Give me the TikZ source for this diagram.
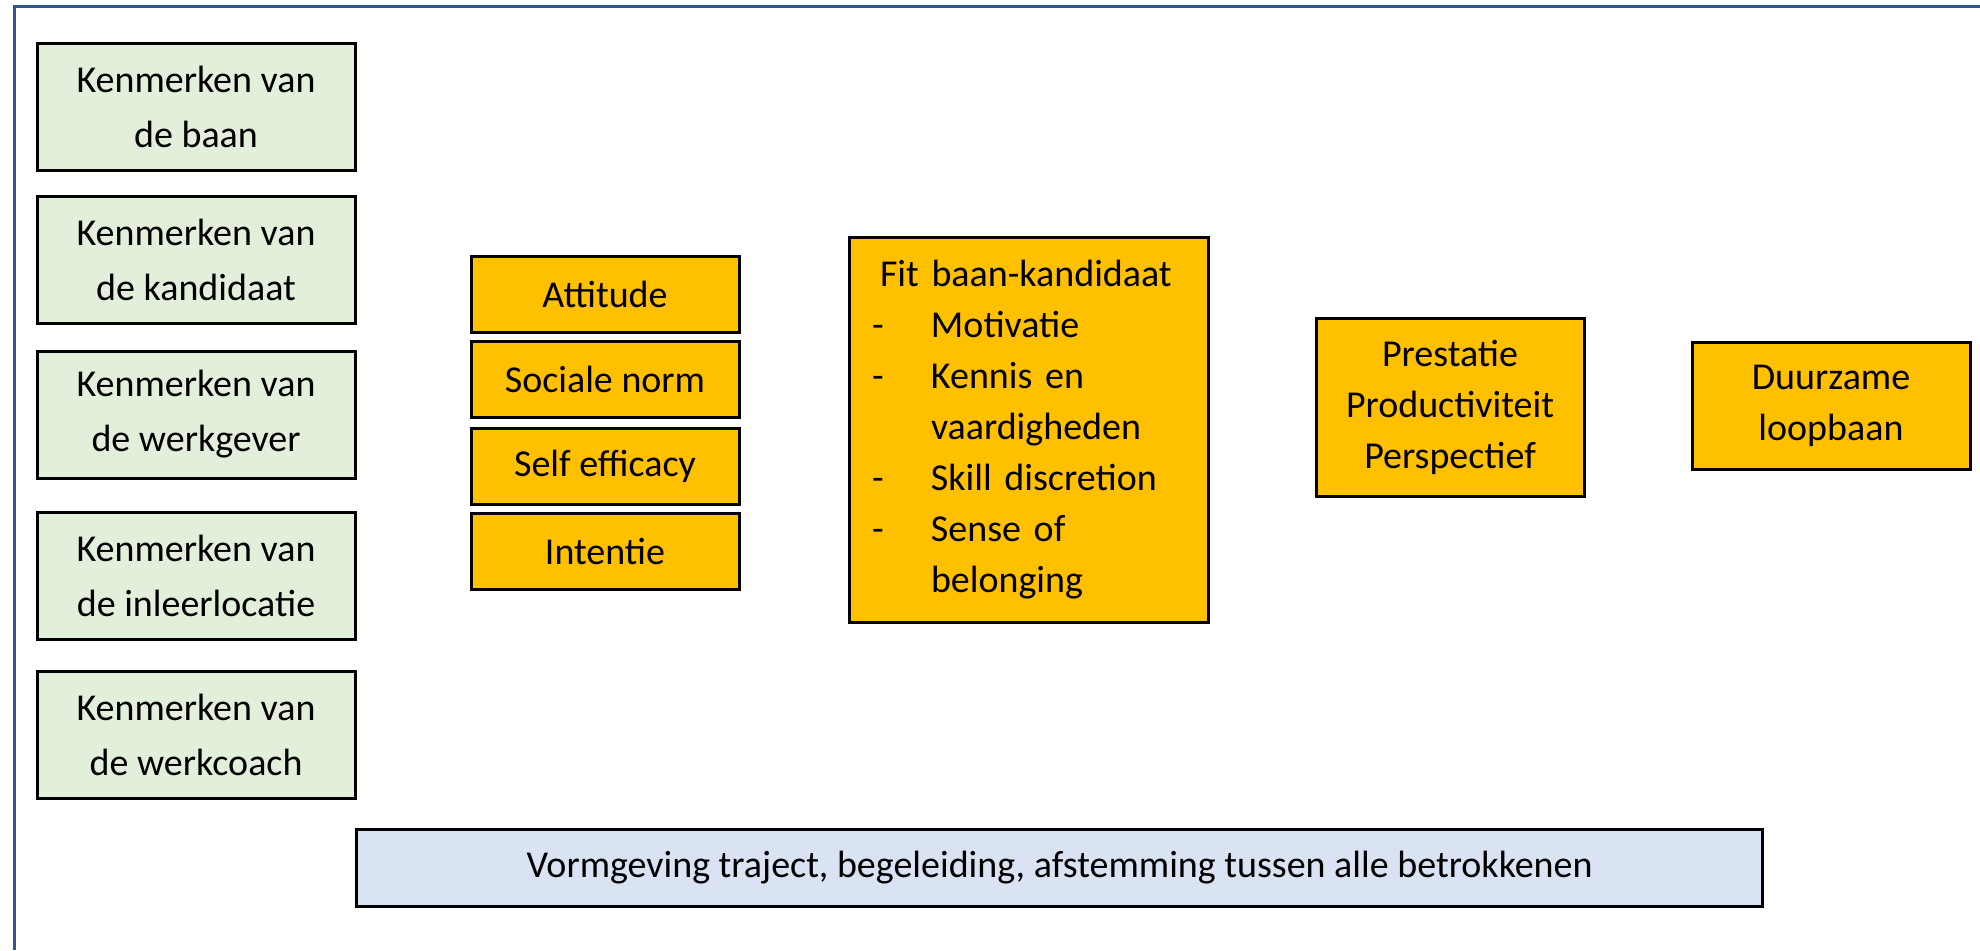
\documentclass[tikz,border=0pt]{standalone}
\usepackage{fontspec}
\setmainfont{Carlito}

\definecolor{kaderblauw}{RGB}{47,85,151}
\definecolor{kenmerkgroen}{RGB}{226,239,218}
\definecolor{oranje}{RGB}{255,192,0}
\definecolor{balkblauw}{RGB}{218,227,243}

\newcommand{\punt}{\makebox[29.5pt][l]{-}}
\newcommand{\inspring}{\hspace*{29.5pt}}

\tikzset{
	vak/.style={draw=black, line width=1.5pt, inner sep=0pt, align=center},
	kenmerk/.style={vak, fill=kenmerkgroen, minimum width=159pt, minimum height=63.5pt, font=\fontsize{19}{27.5}\selectfont},
	factor/.style={vak, fill=oranje, minimum width=134pt, minimum height=38pt, font=\fontsize{19}{25.5}\selectfont},
	uitkomst/.style={vak, fill=oranje, font=\fontsize{19}{25.5}\selectfont},
	balk/.style={vak, fill=balkblauw, minimum width=703pt, minimum height=38.5pt, font=\fontsize{19}{25.5}\selectfont},
	kader/.style={draw=kaderblauw, line width=1.5pt}
}

\begin{document}
\begin{tikzpicture}[x=0.5pt, y=-0.5pt]
		\useasboundingbox (0,0) rectangle (1980,950);
		\draw[kader] (14,950) -- (14,6) -- (1980,6);
		
		\node[kenmerk] (baan) at (196,106.5) {Kenmerken van\\de baan};
		\node[kenmerk] (kandidaat) at (196,260) {Kenmerken van\\de kandidaat};
		\node[kenmerk] (werkgever) at (196,414.5) {Kenmerken van\\de werkgever};
		\node[kenmerk] (inleerlocatie) at (196,576) {Kenmerken van\\de inleerlocatie};
		\node[kenmerk] (werkcoach) at (196,735) {Kenmerken van\\de werkcoach};
		
		\node[factor] (attitude) at (605,294) {Attitude};
		\node[factor] (norm) at (605,379) {Sociale norm};
		\node[factor] (efficacy) at (605,466) {Self efficacy};
		\node[factor] (intentie) at (605,551) {Intentie};
		
		\node[uitkomst, align=left, text width=156.5pt, inner xsep=11.5pt, minimum height=192.5pt] (fit) at (1028.5,429.5) {%
			\hspace*{4pt}Fit baan-kandidaat\\
			\punt Motivatie\\
			\punt Kennis en\\
			\inspring vaardigheden\\
			\punt Skill discretion\\
			\punt Sense of\\
			\inspring belonging};
		
		\node[uitkomst, minimum width=134pt, minimum height=89pt] (prestatie) at (1450,407) {Prestatie\\Productiviteit\\Perspectief};
		
		\node[uitkomst, minimum width=139pt, minimum height=63.5pt] (loopbaan) at (1831,405.5) {Duurzame\\loopbaan};
		
		\node[balk] (traject) at (1059.5,868) {Vormgeving traject, begeleiding, afstemming tussen alle betrokkenen};
\end{tikzpicture}
\end{document}
